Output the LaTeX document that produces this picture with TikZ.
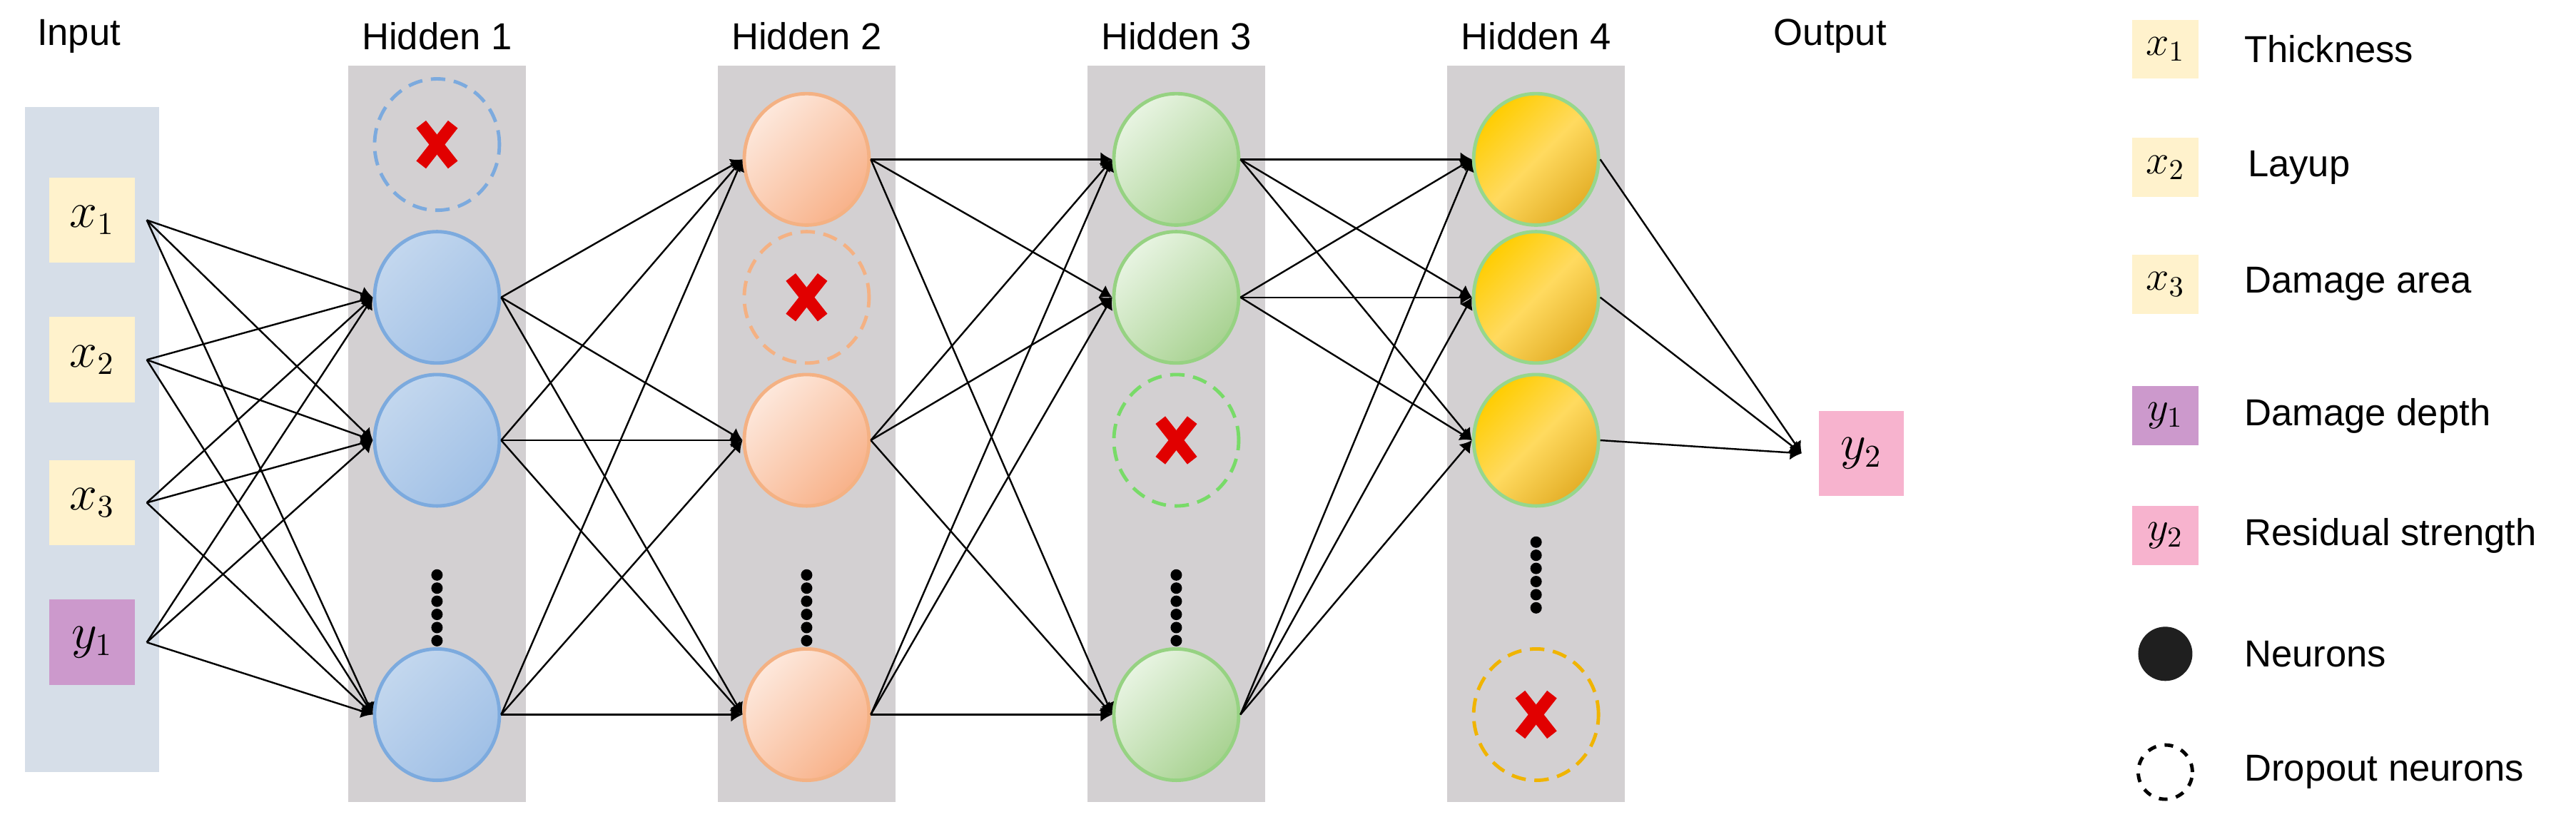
\documentclass[tikz,border=0pt]{standalone}
\usepackage{fontspec}
\setmainfont{Liberation Sans}
\usetikzlibrary{arrows.meta,shapes.geometric}
\definecolor{inbg}{RGB}{214,222,232}
\definecolor{hbg}{RGB}{211,208,210}
\definecolor{xbox}{RGB}{255,242,204}
\definecolor{ybox}{RGB}{204,153,204}
\definecolor{pbox}{RGB}{247,179,206}
\definecolor{bE}{RGB}{124,170,222}
\definecolor{oE}{RGB}{244,177,131}
\definecolor{gE}{RGB}{150,210,130}
\definecolor{yE}{RGB}{150,215,140}
\definecolor{yD}{RGB}{240,180,0}
\definecolor{xred}{RGB}{225,0,0}
\begin{document}
\begin{tikzpicture}[x=0.02cm,y=-0.02cm,
  lbl/.style={font=\fontsize{13}{15}\selectfont},
  box/.style={minimum width=1.04cm,minimum height=1.04cm,inner sep=0pt,font=\fontsize{16}{18}\selectfont},
  neu/.style={ellipse,minimum width=1.52cm,minimum height=1.6cm,line width=1.2pt,inner sep=0pt},
  nb/.style={neu,draw=bE,left color={rgb,255:red,195;green,215;blue,238},right color={rgb,255:red,160;green,192;blue,230},shading angle=45},
  no/.style={neu,draw=oE,left color={rgb,255:red,253;green,232;blue,220},right color={rgb,255:red,248;green,178;blue,138},shading angle=45},
  ng/.style={neu,draw=gE,left color={rgb,255:red,232;green,244;blue,226},right color={rgb,255:red,168;green,210;blue,145},shading angle=45},
  ny/.style={neu,draw=yE,left color={rgb,255:red,255;green,205;blue,0},right color={rgb,255:red,228;green,175;blue,40},middle color={rgb,255:red,255;green,218;blue,95},shading angle=45},
  drop/.style={neu,dashed,dash pattern=on 5pt off 3pt,fill=none},
  cross/.style={xred,line width=0.15cm},
  e/.style={-{Latex[length=4pt,width=5pt]},line width=0.6pt},
  dots/.style={fill=black,circle,inner sep=1.4pt}
]
\useasboundingbox (0,0) rectangle (1568,500);
\fill[inbg] (15,65) rectangle (97,470);
\foreach \cx in {266,491,716,935} \fill[hbg] (\cx-54,40) rectangle (\cx+54,488);
\node[lbl] (tIn) at (48,22) {Input};
\node[lbl] (tH1) at (266,22) {Hidden 1};
\node[lbl] (tH2) at (491,22) {Hidden 2};
\node[lbl] (tH3) at (716,22) {Hidden 3};
\node[lbl] (tH4) at (935,22) {Hidden 4};
\node[lbl] (tOut) at (1114,22) {Output};
\node[box,fill=xbox] (i1) at (56,134) {$x_1$};
\node[box,fill=xbox] (i2) at (56,219) {$x_2$};
\node[box,fill=xbox] (i3) at (56,306) {$x_3$};
\node[box,fill=ybox] (i4) at (56,391) {$y_1$};
\node[drop,draw=bE] (d1) at (266,88) {};
\node[nb] (a1) at (266,181) {};
\node[nb] (a2) at (266,268) {};
\node[nb] (a3) at (266,435) {};
\node[no] (b1) at (491,97) {};
\node[drop,draw=oE] (d2) at (491,181) {};
\node[no] (b2) at (491,268) {};
\node[no] (b3) at (491,435) {};
\node[ng] (c1) at (716,97) {};
\node[ng] (c2) at (716,181) {};
\node[drop,draw=gE!80!green] (d3) at (716,268) {};
\node[ng] (c3) at (716,435) {};
\node[ny] (f1) at (935,97) {};
\node[ny] (f2) at (935,181) {};
\node[ny] (f3) at (935,268) {};
\node[drop,draw=yD] (d4) at (935,435) {};
\node[box,fill=pbox] (o) at (1133,276) {$y_2$};
\foreach \d in {d1,d2,d3,d4}{
  \draw[cross] ([shift={(-5.5pt,-7pt)}]\d.center) -- ([shift={(5.5pt,7pt)}]\d.center);
  \draw[cross] ([shift={(-5.5pt,7pt)}]\d.center) -- ([shift={(5.5pt,-7pt)}]\d.center);
}
\foreach \cx/\ya in {266/350,491/350,716/350,935/330}
  \foreach \k in {0,...,5} \node[dots] at (\cx,\ya+\k*8) {};
\foreach \s in {i1,i2,i3,i4} \foreach \t in {a1,a2,a3} \draw[e] ([xshift=0.14cm]\s.east) -- (\t.west);
\foreach \s in {a1,a2,a3} \foreach \t in {b1,b2,b3} \draw[e] (\s.east) -- (\t.west);
\foreach \s in {b1,b2,b3} \foreach \t in {c1,c2,c3} \draw[e] (\s.east) -- (\t.west);
\foreach \s in {c1,c2,c3} \foreach \t in {f1,f2,f3} \draw[e] (\s.east) -- (\t.west);
\foreach \s in {f1,f2,f3} \draw[e] (\s.east) -- ([xshift=-0.2cm]o.west);
\tikzset{lb/.style={minimum width=0.8cm,minimum height=0.72cm,inner sep=0pt,font=\fontsize{14}{16}\selectfont}}
\node[lb,fill=xbox] (l1) at (1318,30) {$x_1$};
\node[lb,fill=xbox] (l2) at (1318,102) {$x_2$};
\node[lb,fill=xbox] (l3) at (1318,173) {$x_3$};
\node[lb,fill=ybox] (l4) at (1318,253) {$y_1$};
\node[lb,fill=pbox] (l5) at (1318,326) {$y_2$};
\node[circle,fill=black!88,minimum size=0.66cm] (l6) at (1318,398) {};
\node[circle,draw=black,dashed,line width=1.2pt,minimum size=0.66cm] (l7) at (1318,470) {};
\node[lbl,anchor=west] (m1) at (1360,30) {Thickness};
\node[lbl,anchor=west] (m2) at (1362,102) {Layup};
\node[lbl,anchor=west] (m3) at (1360,173) {Damage area};
\node[lbl,anchor=west] (m4) at (1360,253) {Damage depth};
\node[lbl,anchor=west] (m5) at (1360,326) {Residual strength};
\node[lbl,anchor=west] (m6) at (1360,398) {Neurons};
\node[lbl,anchor=west] (m7) at (1360,470) {Dropout neurons};
\end{tikzpicture}
\end{document}
